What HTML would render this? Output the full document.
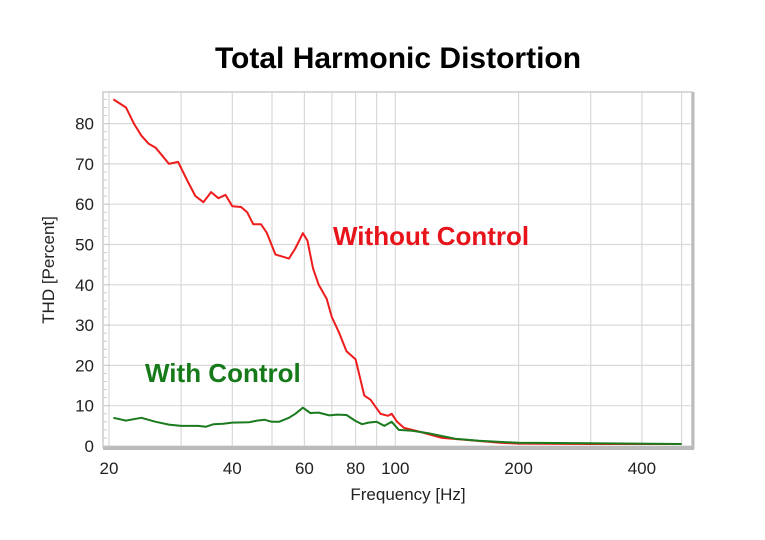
<!DOCTYPE html>
<html><head><meta charset="utf-8"><style>
body{margin:0;background:#fff;}
svg{display:block;font-family:"Liberation Sans",Arial,sans-serif;}
</style></head><body>
<svg id="c" width="765" height="540">
<text x="398" y="68" text-anchor="middle" font-size="30" font-weight="bold" fill="#000">Total Harmonic Distortion</text>
<g id="grid"></g>
<rect x="103" y="92" width="589" height="355" fill="none" stroke="#ccc" stroke-width="1.5"/>
<line x1="103" y1="448" x2="694" y2="448" stroke="#bbb" stroke-width="4"/>
<line x1="693" y1="92" x2="693" y2="449" stroke="#bbb" stroke-width="3"/>
<g id="ticks"></g>
<g id="series"></g>
<text x="333" y="245" font-size="26" font-weight="bold" fill="#e8141b">Without Control</text>
<text x="145" y="382" font-size="26" font-weight="bold" fill="#167a1a">With Control</text>
<text transform="translate(54,270) rotate(-90)" text-anchor="middle" font-size="17" fill="#222">THD [Percent]</text>
<text x="408" y="500" text-anchor="middle" font-size="17" fill="#222">Frequency [Hz]</text>
</svg>
<script>
const xTickLabels=[20,40,60,80,100,200,400];
const xGridFreqs=[20,30,40,50,60,70,80,90,100,200,300,400,500];
const yTickLabels=[0,10,20,30,40,50,60,70,80];
const redFreq=[20.5,22,23,24,25,26,27,28,29.5,31,32.5,34,35.5,37,38.5,40,42,43.5,45,47,48.5,51,53,55,57,59.5,61,63,65,68,70,73,76,80,84,87,92,96,98,101,105,115,130,150,180,200,300,500];
const redVal=[86,84,80,77,75,74,72,70,70.5,66,62,60.5,63,61.5,62.3,59.5,59.3,58,55,55,53,47.5,47,46.5,49,52.8,51,44,40,36.5,32,28,23.5,21.5,12.5,11.5,8,7.5,8,6,4.5,3.5,2,1.5,0.8,0.6,0.5,0.5];
const greenFreq=[20.5,22,24,26,28,30,33,34.5,36,38,40,44,46,48,50,52,55,57,59.5,62,65,69,72,76,80,83,86,90,94,98,102,110,120,140,160,200,300,500];
const greenVal=[7,6.3,7,6,5.3,5,5,4.8,5.4,5.5,5.8,5.9,6.3,6.5,6,6,7,8,9.5,8.2,8.3,7.6,7.8,7.7,6.2,5.4,5.8,6,5,6,4,3.8,3.2,1.8,1.3,0.8,0.7,0.5];
const NS='http://www.w3.org/2000/svg';
const xs=f=>109+123.3*Math.log2(f/20);
const ys=v=>446-v*4.03;
function mk(t,a,p){const e=document.createElementNS(NS,t);for(const k in a)e.setAttribute(k,a[k]);p.appendChild(e);return e;}
const grid=document.getElementById('grid'),ticks=document.getElementById('ticks'),series=document.getElementById('series');
xGridFreqs.forEach(f=>{const l=mk('line',{x1:xs(f),x2:xs(f),y1:92,y2:447,stroke:'#d9d9d9','stroke-width':1.2},grid);

});
yTickLabels.forEach(v=>{const l=mk('line',{x1:103,x2:692,y1:ys(v),y2:ys(v),stroke:'#d9d9d9','stroke-width':1.2},grid);


const t=mk('text',{x:94,y:ys(v)+6,'text-anchor':'end','font-size':17,fill:'#222'},ticks);t.textContent=v;

});
for(let v=0;v<=87;v+=2){const m=mk('line',{x1:103,x2:v%10?107:110,y1:ys(v),y2:ys(v),stroke:'#ccc'},ticks);

}
xTickLabels.forEach(f=>{const t=mk('text',{x:xs(f),y:474,'text-anchor':'middle','font-size':17,fill:'#222'},ticks);t.textContent=f;

});
function line(fr,vals,col,name){const d=fr.map((f,i)=>(i?'L':'M')+xs(f).toFixed(1)+','+ys(vals[i]).toFixed(1)).join('');
const p=mk('path',{d:d,fill:'none',stroke:col,'stroke-width':2,'stroke-linejoin':'round'},series);

}
line(redFreq,redVal,'#ee1c1c','without-control-line');
line(greenFreq,greenVal,'#1a7a1e','with-control-line');
</script>
</body></html>
